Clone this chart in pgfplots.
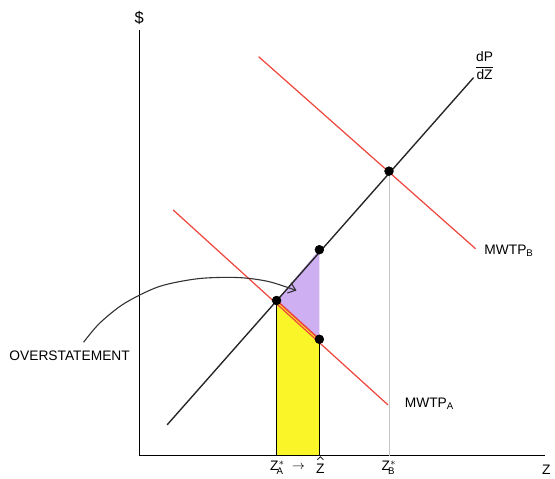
\documentclass[border=0pt]{standalone}
\usepackage{pgfplots}
\pgfplotsset{compat=1.18}
\usetikzlibrary{arrows.meta}
\usepackage{fontspec}
\setmainfont{Liberation Sans}
\definecolor{linered}{RGB}{238,72,62}
\definecolor{lav}{RGB}{205,175,242}
\definecolor{hl}{RGB}{250,245,40}
\begin{document}
\begin{tikzpicture}
\begin{axis}[
  width=5.55in, height=4.78in, scale only axis,
  xmin=0, xmax=555, ymin=0, ymax=478,
  hide axis, clip=false,
]
\path (rel axis cs:0,0) rectangle (rel axis cs:1,1);
% shaded areas
\addplot[fill=hl, draw=none] coordinates {(278,20) (278,176) (321,137) (321,20)} -- cycle;
\addplot[fill=lav, draw=none] coordinates {(278,176) (321,227) (321,137)} -- cycle;
\addplot[black, thin] coordinates {(278,20) (278,176)};
\addplot[black, thin] coordinates {(321,20) (321,137)};
\addplot[linered, line width=1.2pt] coordinates {(278,176) (321,137)};
% axes
\addplot[black, line width=1pt] coordinates {(140,448) (140,20)};
\addplot[black, line width=1pt] coordinates {(140,20) (548,20)};
% gray guide
\addplot[gray!45, line width=0.6pt] coordinates {(391,306) (391,20)};
% dP/dZ line
\addplot[black!85, line width=1pt] coordinates {(168,51) (476,400)};
% MWTP lines
\addplot[linered, line width=0.9pt] coordinates {(174,267) (390,71)};
\addplot[linered, line width=0.9pt] coordinates {(260,421) (478,228)};
% overstatement curve
\addplot[black!80, line width=0.8pt, smooth, -{Straight Barb[length=5pt,width=8pt]}] coordinates {(84,134) (100,153) (125,173) (160,190) (200,198) (240,199) (270,195) (298,186)};
% dots
\addplot[only marks, mark=*, mark size=3.2pt, black] coordinates {(278,176) (321,227) (321,137) (391,306)};
% hat over Z
\addplot[black, line width=0.5pt] coordinates {(319,16) (322,19) (325,16)};
% labels
\node at (axis cs:140,460) {\large\$};
\node at (axis cs:487,412) {$\displaystyle\frac{\mathrm{dP}}{\mathrm{dZ}}$};
\node[anchor=west] at (axis cs:482,226) {MWTP\textsubscript{\scriptsize B}};
\node[anchor=west] at (axis cs:402,72) {MWTP\textsubscript{\scriptsize A}};
\node at (axis cs:70,120) {OVERSTATEMENT};
\node[inner sep=0.5pt] at (axis cs:279,8) {Z$^{*}_{\!\mathrm{A}}$};
\node[inner sep=0.5pt] at (axis cs:300,8) {\small$\rightarrow$};
\node[inner sep=0.5pt] at (axis cs:322,7) {Z};
\node at (axis cs:391,8) {Z$^{*}_{\!\mathrm{B}}$};
\node at (axis cs:549,6) {Z};
\end{axis}
\end{tikzpicture}
\end{document}
